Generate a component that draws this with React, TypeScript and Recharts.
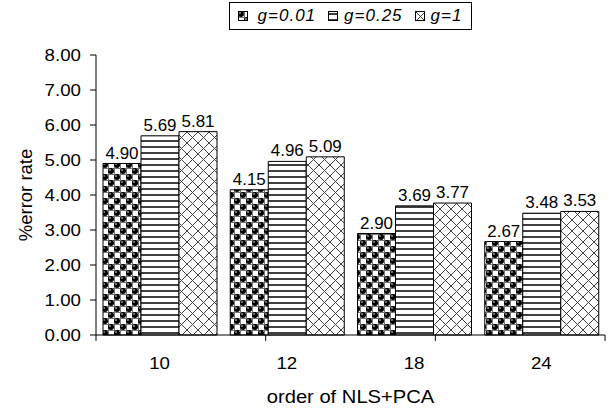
import React from 'react';
import { BarChart, Bar, XAxis, YAxis, Legend, LabelList, ReferenceLine } from 'recharts';

const categories = ['10', '12', '18', '24'];
const g001 = [4.9, 4.15, 2.9, 2.67];
const g025 = [5.69, 4.96, 3.69, 3.48];
const g1 = [5.81, 5.09, 3.77, 3.53];
const seriesNames = ['g=0.01', 'g=0.25', 'g=1'];
const yTicks = [0, 1, 2, 3, 4, 5, 6, 7, 8];
const boundaryTicks = [0, 1, 2, 3, 4];

const data = categories.map((c, i) => ({ cat: c, a: g001[i], b: g025[i], c: g1[i] }));

const FONT = '"Liberation Sans", Arial, sans-serif';
const fills = ['url(#pBalls)', 'url(#pHoriz)', 'url(#pCross)'];
const SX = 1.1;

const SText = ({ x, y, anchor = 'middle', size = 17, sx = SX, children }: any) => (
  <text
    transform={`translate(${x},${y}) scale(${sx},1)`}
    x={0}
    y={0}
    textAnchor={anchor}
    fontFamily={FONT}
    fontSize={size}
    fill="#000"
  >
    {children}
  </text>
);

const LegendContent = () => (
  <div style={{ height: 53, display: 'flex', justifyContent: 'center', alignItems: 'flex-start' }}>
    <div
      style={{
        border: '1px solid #000',
        display: 'flex',
        alignItems: 'center',
        height: 26,
        padding: '0 9px 0 8px',
        fontFamily: FONT,
        fontSize: 17,
        fontStyle: 'italic',
        letterSpacing: 1,
        background: '#fff',
      }}
    >
      {seriesNames.map((n, i) => (
        <span key={n} style={{ display: 'flex', alignItems: 'center', marginLeft: i === 0 ? 0 : 12 }}>
          <svg width={10} height={10} style={{ marginRight: i === 0 ? 10 : 6 }}>
            <rect x={0.5} y={0.5} width={9} height={9} fill={fills[i]} stroke="#000" strokeWidth={1} />
          </svg>
          <span>{n}</span>
        </span>
      ))}
    </div>
  </div>
);

const CatTick = (props: any) => {
  const { x, y, payload } = props;
  return (
    <SText x={x} y={y + 26} size={17}>
      {payload.value}
    </SText>
  );
};

const YTick = (props: any) => {
  const { x, y, payload } = props;
  return (
    <SText x={x} y={y + 6} anchor="end" size={17}>
      {Number(payload.value).toFixed(2)}
    </SText>
  );
};

const YTitle = (props: any) => {
  const vb = props.viewBox || {};
  const cx = 25;
  const cy = (vb.y || 0) + (vb.height || 0) / 2;
  return (
    <text
      x={cx}
      y={cy}
      transform={`rotate(-90, ${cx}, ${cy})`}
      textAnchor="middle"
      dominantBaseline="central"
      fontFamily={FONT}
      fontSize={18.5}
      fill="#000"
    >
      %error rate
    </text>
  );
};

const XTitle = (props: any) => {
  const vb = props.viewBox || {};
  const cx = (vb.x || 0) + (vb.width || 0) / 2;
  const by = (vb.y || 0) + (vb.height || 0) - 9;
  return (
    <SText x={cx} y={by} size={18} sx={1.12}>
      order of NLS+PCA
    </SText>
  );
};

const DataLabel = (props: any) => {
  const { x, y, width, value } = props;
  return (
    <SText x={x + width / 2} y={y - 5} size={16} sx={1.06}>
      {Number(value).toFixed(2)}
    </SText>
  );
};

export default function App() {
  return (
    <div style={{ position: 'absolute', left: 0, top: 0, background: '#fff' }}>
      <BarChart
        width={610}
        height={412}
        data={data}
        margin={{ top: 2, right: 5, bottom: 0, left: 0 }}
        barCategoryGap={7}
        barGap={0}
      >
        <defs>
          <pattern id="pBalls" patternUnits="userSpaceOnUse" width={12} height={12}>
            <rect x={0} y={0} width={12} height={12} fill="#fff" />
            <path d="M0 0.5H12M0 6.5H12M0.5 0V12M6.5 0V12" stroke="#777" strokeWidth={1} />
            <circle cx={3} cy={3} r={3} fill="#000" />
            <circle cx={9} cy={9} r={3} fill="#000" />
            <circle cx={2} cy={2} r={0.8} fill="#fff" />
            <circle cx={8} cy={8} r={0.8} fill="#fff" />
          </pattern>
          <pattern id="pHoriz" patternUnits="userSpaceOnUse" width={6} height={6}>
            <rect x={0} y={0} width={6} height={6} fill="#fff" />
            <line x1={0} y1={3} x2={6} y2={3} stroke="#000" strokeWidth={1.5} />
          </pattern>
          <pattern id="pCross" patternUnits="userSpaceOnUse" width={11} height={11}>
            <rect x={0} y={0} width={11} height={11} fill="#fff" />
            <path d="M0 0L11 11M11 0L0 11" stroke="#444" strokeWidth={1} />
          </pattern>
        </defs>
        <Legend verticalAlign="top" align="center" wrapperStyle={{ left: 96, width: 509, top: 2 }} content={<LegendContent />} />
        <XAxis
          xAxisId="c"
          dataKey="cat"
          height={77}
          tickLine={false}
          axisLine={{ stroke: '#000' }}
          tick={<CatTick />}
          interval={0}
          label={<XTitle />}
        />
        <XAxis xAxisId="b" type="number" domain={[0, 4]} hide height={0} allowDataOverflow />
        <XAxis
          xAxisId="top"
          orientation="top"
          type="number"
          domain={[0, 1]}
          height={0}
          tick={false}
          tickLine={false}
          axisLine={{ stroke: '#c0c0c0' }}
        />
        <YAxis
          yAxisId="v"
          domain={[0, 8]}
          ticks={yTicks}
          width={96}
          tickSize={6}
          tickMargin={9}
          tickLine={{ stroke: '#000' }}
          axisLine={{ stroke: '#000' }}
          tick={<YTick />}
          label={<YTitle />}
        />
        <YAxis
          yAxisId="r"
          orientation="right"
          domain={[0, 8]}
          width={0}
          tick={false}
          tickLine={false}
          axisLine={{ stroke: '#c0c0c0' }}
        />
        {(['a', 'b', 'c'] as const).map((k, i) => (
          <Bar
            key={k}
            dataKey={k}
            name={seriesNames[i]}
            xAxisId="c"
            yAxisId="v"
            fill={fills[i]}
            stroke="#000"
            strokeWidth={1}
            isAnimationActive={false}
          >
            <LabelList dataKey={k} content={<DataLabel />} />
          </Bar>
        ))}
        {boundaryTicks.map((t) => (
          <ReferenceLine
            key={t}
            xAxisId="b"
            yAxisId="v"
            segment={[{ x: t, y: 0 }, { x: t, y: -0.17 }]}
            stroke="#000"
            ifOverflow="visible"
          />
        ))}
      </BarChart>
    </div>
  );
}
